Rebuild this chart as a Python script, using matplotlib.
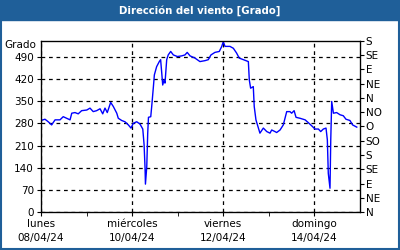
import matplotlib
matplotlib.use("Agg")
import matplotlib.pyplot as plt
from matplotlib.patches import Rectangle

# horas desde lunes 08/04/24 00:00
horas = [0, 2.1, 3.8, 5.6, 7.4, 10.0, 11.7, 13.5, 15.3, 16.2, 17.9, 19.6, 21.4,
         24.1, 25.8, 27.5, 29.3, 31.1, 32.5, 33.7, 34.9, 36.7, 38.1, 39.9, 40.7,
         42.5, 44.2, 46.0, 47.4, 48.6, 50.4, 52.1, 53.6, 54.3, 54.8, 55.0, 55.7,
         56.2, 56.6, 57.8, 58.3, 59.2, 59.7, 60.9, 62.3, 63.0, 63.6, 64.1, 64.8,
         65.3, 66.2, 67.0, 68.3, 69.7, 71.8, 74.1, 75.8, 77.0, 78.5, 81.1, 83.7,
         86.4, 88.1, 89.5, 91.6, 93.9, 95.2, 96.0, 96.9, 99.5, 101.3, 103.0,
         104.4, 106.6, 109.2, 109.7, 110.4, 111.8, 112.3, 113.2, 114.5, 115.3,
         117.1, 118.9, 120.6, 121.5, 123.2, 124.1, 125.9, 127.6, 129.4, 131.1,
         132.0, 133.3, 134.3, 136.4, 139.1, 140.8, 142.6, 144.3, 146.1, 147.3,
         148.7, 150.1, 150.8, 151.3, 152.2, 152.6, 153.1, 154.0, 155.7, 157.5,
         159.2, 160.6, 162.7, 164.1, 166.3]
direccion = [289, 293, 285, 275, 291, 291, 301, 296, 291, 312, 314, 310, 320,
             322, 328, 317, 320, 326, 310, 328, 314, 346, 333, 312, 296,
             289, 285, 275, 265, 280, 285, 278, 262, 212, 138, 88, 143,
             249, 299, 301, 333, 396, 433, 459, 475, 481, 438, 401, 417,
             407, 481, 496, 507, 496, 491, 493, 496, 504, 493, 486, 475,
             478, 481, 496, 504, 507, 523, 538, 523, 523, 517, 502,
             486, 481, 475, 417, 391, 396, 333, 291, 265, 249,
             265, 254, 249, 259, 254, 251, 259, 275, 317, 317,
             312, 320, 299, 296, 291, 282, 272, 262, 262, 254,
             262, 265, 228, 122, 75, 228, 349, 312, 314, 307,
             304, 293, 289, 275, 268]

dias = ["lunes\n08/04/24", "miércoles\n10/04/24", "viernes\n12/04/24", "domingo\n14/04/24"]
grados_izq = [0, 70, 140, 210, 280, 350, 420, 490]
rumbos = ["N", "NE", "E", "SE", "S", "SO", "O", "NO", "N", "NE", "E", "SE", "S"]

azul = "#1f5f99"

fig = plt.figure(figsize=(4, 2.5), dpi=100)
fig.patches.append(Rectangle((0, 0.92), 1, 0.08, transform=fig.transFigure,
                             color=azul, zorder=0))
fig.patches.append(Rectangle((0.002, 0.004), 0.996, 0.996, transform=fig.transFigure,
                             fill=False, edgecolor=azul, linewidth=1.5, zorder=0))
fig.text(0.5, 0.958, "Dirección del viento [Grado]", color="white",
         fontsize=7.3, fontweight="bold", ha="center", va="center")

ax = fig.add_axes([0.1025, 0.152, 0.7975, 0.684])
ax.plot(horas, direccion, color="#0000ff", linewidth=1)
ax.set_xlim(0, 168)
ax.set_ylim(0, 540)
ax.set_yticks(grados_izq)
ax.set_xticks([0, 48, 96, 144])
ax.set_xticklabels(dias, linespacing=1.45)
ax.set_xticks([24, 72, 120], minor=True)
ax.tick_params(axis="both", labelsize=7.5, length=3, pad=2)
ax.tick_params(axis="x", which="minor", length=3)
ax.grid(True, color="black", linestyle=(0, (3, 3)), linewidth=0.9)
for s in ax.spines.values():
    s.set_linewidth(0.9)
fig.text(0.09, 0.82, "Grado", fontsize=7.5, ha="right", va="center")

ax2 = ax.twinx()
ax2.set_ylim(0, 540)
ax2.set_yticks(range(0, 541, 45))
ax2.set_yticklabels(rumbos)
ax2.tick_params(axis="y", labelsize=7.5, length=3, pad=1)

fig.savefig("out.png", dpi=100)
